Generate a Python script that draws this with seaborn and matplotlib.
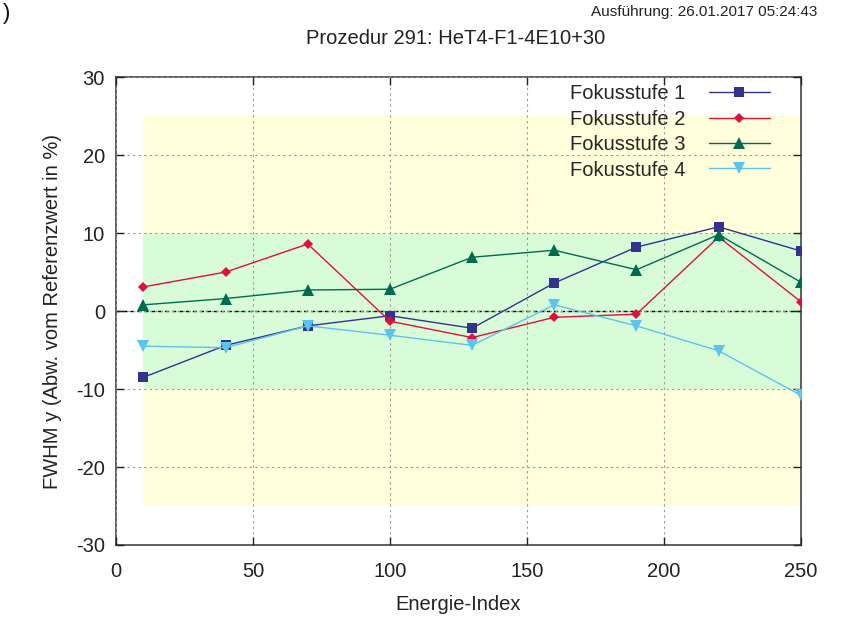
import matplotlib
matplotlib.use("Agg")
import matplotlib.pyplot as plt
import seaborn as sns
import pandas as pd

energie_index = [10, 40, 70, 100, 130, 160, 190, 220, 250]
fokus1 = [-8.5, -4.4, -1.9, -0.6, -2.2, 3.6, 8.2, 10.8, 7.7]
fokus2 = [3.1, 5.0, 8.6, -1.3, -3.4, -0.8, -0.4, 9.5, 1.2]
fokus3 = [0.8, 1.6, 2.7, 2.8, 6.9, 7.8, 5.3, 9.8, 3.7]
fokus4 = [-4.5, -4.7, -1.9, -3.1, -4.4, 0.8, -1.9, -5.1, -10.8]
series_names = ["Fokusstufe 1", "Fokusstufe 2", "Fokusstufe 3", "Fokusstufe 4"]
x_ticks = [0, 50, 100, 150, 200, 250]
y_ticks = [-30, -20, -10, 0, 10, 20, 30]

sns.set_theme(style="white")
plt.rcParams["font.family"] = ["Liberation Sans", "DejaVu Sans"]
plt.rcParams["axes.unicode_minus"] = False

df = pd.DataFrame({
    "Energie-Index": energie_index * 4,
    "Wert": fokus1 + fokus2 + fokus3 + fokus4,
    "Serie": [n for n in series_names for _ in energie_index],
})

colors = {"Fokusstufe 1": "#33338f", "Fokusstufe 2": "#e0103a",
          "Fokusstufe 3": "#006b4f", "Fokusstufe 4": "#5cc3ee"}
markers = {"Fokusstufe 1": "s", "Fokusstufe 2": "D",
           "Fokusstufe 3": "^", "Fokusstufe 4": "v"}
sizes = {"Fokusstufe 1": 7, "Fokusstufe 2": 5, "Fokusstufe 3": 8, "Fokusstufe 4": 8}

fig = plt.figure(figsize=(8.43, 6.22), dpi=100)
ax = fig.add_axes([0.1376, 0.1238, 0.8124, 0.7522])

# tolerance bands
ax.fill_between([10, 250], -25, 25, color="#ffffdc", zorder=0, linewidth=0)
ax.fill_between([10, 250], -10, 10, color="#d8fcd8", zorder=0.5, linewidth=0)

for name in series_names:
    sub = df[df["Serie"] == name]
    sns.lineplot(data=sub, x="Energie-Index", y="Wert", ax=ax,
                 color=colors[name], marker=markers[name],
                 markersize=sizes[name], markeredgewidth=0,
                 linewidth=1.0, label=name, zorder=3)

ax.axhline(0, color="black", linestyle=(0, (3, 2)), linewidth=1.0, zorder=2)

ax.set_xlim(0, 250)
ax.set_ylim(-30, 30)
ax.set_xticks(x_ticks)
ax.set_yticks(y_ticks)
ax.grid(True, color="#999999", linestyle=(0, (2, 3)), linewidth=0.8, zorder=1)
ax.set_axisbelow(False)
ax.tick_params(axis="both", direction="in", length=6, width=1,
               top=True, right=True, labelsize=14.5, colors="#222222",
               left=True, bottom=True)
ax.tick_params(axis="x", pad=12)
ax.tick_params(axis="y", pad=8)
for s in ax.spines.values():
    s.set_color("#444444")
    s.set_linewidth(1.2)

ax.set_xlabel("Energie-Index", fontsize=14.5, labelpad=10, color="#222222")
ax.set_ylabel("FWHM y (Abw. vom Referenzwert in %)", fontsize=14.5,
              labelpad=10, color="#222222")

leg = ax.legend(loc="upper right", frameon=False, markerfirst=False,
                fontsize=14.5, handlelength=3.0, labelspacing=0.32,
                borderaxespad=0.3, bbox_to_anchor=(0.975, 1.015),
                handletextpad=1.2)

fig.text(0.54, 0.938, "Prozedur 291: HeT4-F1-4E10+30", ha="center",
         va="center", fontsize=14.5, color="#222222")
fig.text(0.97, 0.98, "Ausführung: 26.01.2017 05:24:43", ha="right",
         va="center", fontsize=11, color="#222222")
fig.text(0.003, 0.995, ")", ha="left", va="top", fontsize=16, color="#111111")

fig.savefig("out.png", dpi=100)
